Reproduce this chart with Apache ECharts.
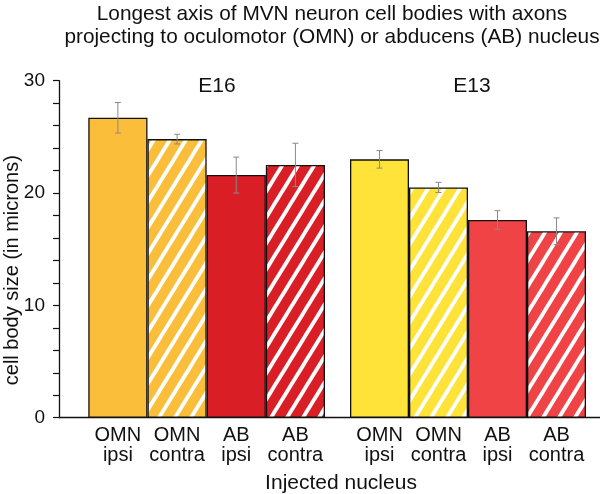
<!DOCTYPE html>
<html><head><meta charset="utf-8">
<script src="https://cdn.jsdelivr.net/npm/echarts@6/dist/echarts.min.js"></script>
<style>html,body{margin:0;padding:0;background:#fff}#c{width:600px;height:494px}</style>
</head><body><div id="c"></div>
<script>
const categories = ['OMN\nipsi', 'OMN\ncontra', 'AB\nipsi', 'AB\ncontra'];
const groupNames = ['E16', 'E13'];
const e16Values = [26.7, 24.8, 21.6, 22.5];
const e16Errors = [1.36, 0.43, 1.6, 1.93];
const e13Values = [23.0, 20.5, 17.6, 16.6];
const e13Errors = [0.78, 0.45, 0.83, 1.19];
const yMin = 0, yMax = 30, yTickStep = 2, yLabelStep = 10;
const e16Colors = ['#FBBE3B', '#FBBE3B', '#D91E26', '#D91E26'];
const e13Colors = ['#FFE338', '#FFE338', '#EF4346', '#EF4346'];
const hatched = [false, true, false, true];

const FONT = '"Liberation Sans", Arial, Helvetica, sans-serif';

function makeHatch(base) {
  const W = 16, H = 26;
  const cv = document.createElement('canvas');
  cv.width = W; cv.height = H;
  const ctx = cv.getContext('2d');
  ctx.fillStyle = base; ctx.fillRect(0, 0, W, H);
  ctx.strokeStyle = '#ffffff'; ctx.lineWidth = 3.8; ctx.lineCap = 'butt';
  for (const c of [-16, 0, 16]) {
    ctx.beginPath();
    ctx.moveTo(c - W * 0.5, H * 1.5);
    ctx.lineTo(c + W * 1.5, -H * 0.5);
    ctx.stroke();
  }
  return { image: cv, repeat: 'repeat' };
}

function barData(values, colors) {
  return values.map((v, i) => ({
    value: v,
    itemStyle: { color: hatched[i] ? makeHatch(colors[i]) : colors[i] }
  }));
}
function errData(values, errors) {
  return values.map((v, i) => [i, v, errors[i]]);
}
function renderErr(params, api) {
  const i = api.value(0), v = api.value(1), e = api.value(2);
  const t = api.coord([i, v + e]);
  const b = api.coord([i, v - e]);
  const hw = 3;
  const style = { stroke: '#8a8a8a', lineWidth: 1 };
  return {
    type: 'group',
    children: [
      { type: 'line', shape: { x1: t[0], y1: t[1], x2: b[0], y2: b[1] }, style },
      { type: 'line', shape: { x1: t[0] - hw, y1: t[1], x2: t[0] + hw, y2: t[1] }, style },
      { type: 'line', shape: { x1: b[0] - hw, y1: b[1], x2: b[0] + hw, y2: b[1] }, style }
    ]
  };
}

const gridTop = 80.7, gridBottom = 76.3;
const chart = echarts.init(document.getElementById('c'), null, { renderer: 'canvas' });
const hiddenY = (gi) => ({ type: 'value', gridIndex: gi, min: yMin, max: yMax, show: false });
const catX = (gi) => ({
  type: 'category', gridIndex: gi, data: categories,
  axisLine: { show: false }, axisTick: { show: false },
  axisLabel: { color: '#111', fontSize: 20, fontFamily: FONT, lineHeight: 20, margin: 8, interval: 0 }
});
const barStyle = { borderColor: '#111', borderWidth: 1.3 };

chart.setOption({
  animation: false,
  backgroundColor: '#fff',
  title: [
    { text: 'Longest axis of MVN neuron cell bodies with axons\nprojecting to oculomotor (OMN) or abducens (AB) nucleus',
      left: 327, top: -2, textAlign: 'center',
      textStyle: { fontSize: 20.8, fontWeight: 'normal', color: '#111', fontFamily: FONT, lineHeight: 23 } },
    { text: groupNames[0], left: 212, top: 71, textAlign: 'center',
      textStyle: { fontSize: 21, fontWeight: 'normal', color: '#111', fontFamily: FONT } },
    { text: groupNames[1], left: 467, top: 71, textAlign: 'center',
      textStyle: { fontSize: 21, fontWeight: 'normal', color: '#111', fontFamily: FONT } },
    { text: 'Injected nucleus', left: 336, top: 468, textAlign: 'center',
      textStyle: { fontSize: 21, fontWeight: 'normal', color: '#111', fontFamily: FONT } }
  ],
  grid: [
    { left: 59, right: 0, top: gridTop, bottom: gridBottom, outerBoundsMode: 'none', containLabel: false },
    { left: 88.3, width: 236.7, top: gridTop, bottom: gridBottom, outerBoundsMode: 'none', containLabel: false },
    { left: 350, width: 236, top: gridTop, bottom: gridBottom, outerBoundsMode: 'none', containLabel: false }
  ],
  xAxis: [
    { type: 'value', gridIndex: 0, min: 0, max: 1,
      axisLine: { show: true, lineStyle: { color: '#111', width: 1.3 } },
      axisTick: { show: false }, axisLabel: { show: false }, splitLine: { show: false } },
    catX(1), catX(2)
  ],
  yAxis: [
    { type: 'value', gridIndex: 0, min: yMin, max: yMax, interval: yTickStep,
      name: 'cell body size (in microns)', nameLocation: 'middle', nameGap: 37, nameMoveOverlap: false,
      nameTextStyle: { fontSize: 20, color: '#111', fontFamily: FONT, padding: [0, 42, 0, 0] },
      axisLine: { show: true, lineStyle: { color: '#111', width: 1.3 } },
      axisTick: { show: true, length: 6, lineStyle: { color: '#111', width: 1.2 } },
      axisLabel: { color: '#111', fontSize: 19, fontFamily: FONT, margin: 14,
        formatter: v => (v % yLabelStep === 0 ? String(v) : '') },
      splitLine: { show: false } },
    hiddenY(1), hiddenY(2)
  ],
  series: [
    { type: 'bar', xAxisIndex: 1, yAxisIndex: 1, barCategoryGap: '0%',
      itemStyle: barStyle, data: barData(e16Values, e16Colors) },
    { type: 'bar', xAxisIndex: 2, yAxisIndex: 2, barCategoryGap: '0%',
      itemStyle: barStyle, data: barData(e13Values, e13Colors) },
    { type: 'custom', xAxisIndex: 1, yAxisIndex: 1, z: 10, renderItem: renderErr,
      data: errData(e16Values, e16Errors) },
    { type: 'custom', xAxisIndex: 2, yAxisIndex: 2, z: 10, renderItem: renderErr,
      data: errData(e13Values, e13Errors) }
  ]
});
</script></body></html>
